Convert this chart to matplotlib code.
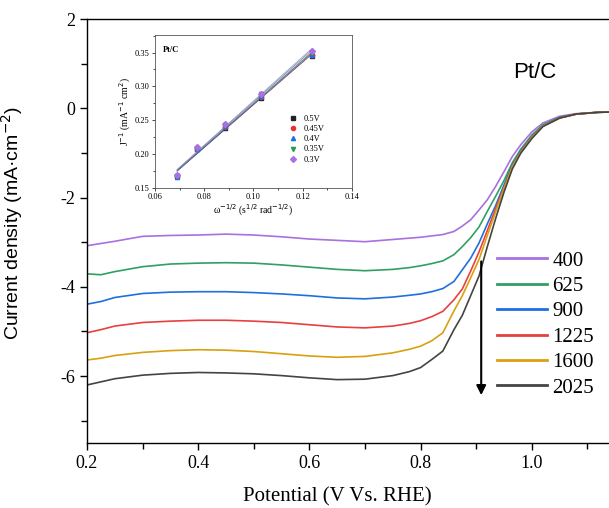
import matplotlib.pyplot as plt
import numpy as np
from matplotlib.ticker import MultipleLocator

plt.rcParams['axes.unicode_minus'] = False

# LSV curves (potential in V vs RHE, current density in mA cm-2)
potential = [0.20, 0.225, 0.25, 0.30, 0.35, 0.40, 0.45, 0.50, 0.55, 0.60, 0.65,
             0.70, 0.75, 0.78, 0.80, 0.82, 0.84, 0.86, 0.875, 0.89, 0.905, 0.92,
             0.935, 0.95, 0.965, 0.98, 1.00, 1.02, 1.05, 1.08, 1.12, 1.16, 1.20]
j_400 = [-3.08, -3.03, -2.98, -2.87, -2.85, -2.84, -2.82, -2.84, -2.88, -2.93, -2.96,
         -2.99, -2.94, -2.91, -2.89, -2.86, -2.83, -2.76, -2.64, -2.50, -2.28, -2.05,
         -1.75, -1.42, -1.08, -0.82, -0.53, -0.33, -0.18, -0.12, -0.09, -0.08, -0.07]
j_625 = [-3.71, -3.73, -3.66, -3.55, -3.49, -3.47, -3.46, -3.47, -3.51, -3.56, -3.61,
         -3.64, -3.61, -3.57, -3.53, -3.48, -3.42, -3.28, -3.10, -2.90, -2.66, -2.31,
         -1.97, -1.62, -1.22, -0.92, -0.60, -0.37, -0.20, -0.13, -0.09, -0.08, -0.07]
j_900 = [-4.39, -4.33, -4.24, -4.15, -4.12, -4.11, -4.11, -4.13, -4.16, -4.20, -4.25,
         -4.27, -4.23, -4.19, -4.16, -4.11, -4.04, -3.88, -3.62, -3.36, -3.02, -2.59,
         -2.18, -1.72, -1.27, -0.96, -0.63, -0.39, -0.21, -0.13, -0.09, -0.08, -0.07]
j_1225 = [-5.03, -4.96, -4.88, -4.80, -4.77, -4.75, -4.75, -4.77, -4.80, -4.85, -4.90,
          -4.92, -4.88, -4.82, -4.76, -4.67, -4.55, -4.29, -4.05, -3.65, -3.22, -2.74,
          -2.25, -1.78, -1.30, -0.98, -0.65, -0.40, -0.22, -0.13, -0.09, -0.08, -0.07]
j_1600 = [-5.64, -5.60, -5.54, -5.47, -5.43, -5.41, -5.42, -5.45, -5.50, -5.55, -5.58,
          -5.56, -5.48, -5.40, -5.33, -5.21, -5.03, -4.54, -4.20, -3.80, -3.39, -2.85,
          -2.32, -1.80, -1.31, -0.99, -0.66, -0.40, -0.22, -0.13, -0.09, -0.08, -0.07]
j_2025 = [-6.20, -6.13, -6.06, -5.98, -5.94, -5.92, -5.93, -5.95, -5.99, -6.04, -6.08,
          -6.07, -5.99, -5.90, -5.81, -5.63, -5.44, -4.96, -4.64, -4.20, -3.76, -3.10,
          -2.47, -1.88, -1.36, -1.01, -0.68, -0.41, -0.22, -0.13, -0.09, -0.08, -0.07]

rpm_labels = ['400', '625', '900', '1225', '1600', '2025']
curve_colors = ['#a970e0', '#2fa062', '#1f6fe0', '#e8403f', '#d9a010', '#444444']

# Koutecky-Levich inset data
kl_x = [0.0690, 0.0772, 0.0884, 0.1031, 0.1237]
kl_05 = [0.167, 0.207, 0.239, 0.283, 0.345]
kl_045 = [0.168, 0.207, 0.240, 0.284, 0.347]
kl_04 = [0.166, 0.208, 0.241, 0.286, 0.347]
kl_035 = [0.168, 0.209, 0.243, 0.288, 0.350]
kl_03 = [0.169, 0.210, 0.244, 0.289, 0.353]
kl_labels = ['0.5V', '0.45V', '0.4V', '0.35V', '0.3V']
kl_colors = ['#222222', '#e83030', '#2070e0', '#20a050', '#a870e0']
kl_markers = ['s', 'o', '^', 'v', 'D']

serif = 'Liberation Serif'
sans = 'Liberation Sans'

fig = plt.figure(figsize=(6.09, 5.08), dpi=100)
ax = fig.add_axes([87 / 609, 65 / 508, 556 / 609, 424 / 508])

curves = [j_400, j_625, j_900, j_1225, j_1600, j_2025]
for j, lab, c in zip(curves, rpm_labels, curve_colors):
    ax.plot(potential, j, color=c, lw=1.2, label=lab)

ax.set_xlim(0.2, 1.2)
ax.set_ylim(-7.5, 2)
ax.xaxis.set_minor_locator(MultipleLocator(0.1))
ax.yaxis.set_major_locator(MultipleLocator(2))
ax.yaxis.set_minor_locator(MultipleLocator(1))
ax.set_xticks([0.2, 0.4, 0.6, 0.8, 1.0])
ax.set_xticklabels(['0.2', '0.4', '0.6', '0.8', '1.0'])
ax.tick_params(which='both', direction='out', width=1.0, labelsize=13)
ax.tick_params(which='major', length=5)
ax.tick_params(which='minor', length=4)
for lbl in ax.get_xticklabels() + ax.get_yticklabels():
    lbl.set_fontfamily(serif)
for sp in ax.spines.values():
    sp.set_linewidth(1.0)

ax.set_xlabel('Potential (V Vs. RHE)', fontfamily=serif, fontsize=15)
ax.xaxis.set_label_coords((337 - 87) / 556, -(487 - 443) / 424)
ax.set_ylabel('Current density (mA·cm$^{-2}$)', fontfamily=sans, fontsize=14)
ax.yaxis.set_label_coords(-(87 - 25) / 556, 0.52)

fig.text(535 / 609, 1 - 73 / 508, 'Pt/C', fontfamily=sans, fontsize=16,
         ha='center', va='center')

ax.annotate('', xy=(0.909, -6.49), xytext=(0.909, -3.37),
            arrowprops=dict(arrowstyle='-|>', color='black', lw=1.5, mutation_scale=14))

leg = ax.legend(loc='upper left', bbox_to_anchor=(497 / 609, 1 - 251 / 508),
                bbox_transform=fig.transFigure, frameon=False, borderpad=0,
                borderaxespad=0, handlelength=2.4, handletextpad=0.25,
                labelspacing=0.28, prop={'family': serif, 'size': 15})
for line in leg.get_lines():
    line.set_linewidth(2.0)

# inset
ins = fig.add_axes([155 / 609, 1 - 187.7 / 508, 196.7 / 609, 152.7 / 508])
kl_sets = [kl_05, kl_045, kl_04, kl_035, kl_03]
for ys, lab, c, m in zip(kl_sets, kl_labels, kl_colors, kl_markers):
    ins.plot(kl_x, ys, linestyle='none', marker=m, color=c, ms=3, label=lab)
    k, b = np.polyfit(kl_x, ys, 1)
    xs = np.array([kl_x[0], kl_x[-1]])
    ins.plot(xs, k * xs + b, color=c, lw=0.6, alpha=0.8)

ins.set_xlim(0.06, 0.14)
ins.set_ylim(0.15, 0.376)
ins.xaxis.set_major_locator(MultipleLocator(0.02))
ins.xaxis.set_minor_locator(MultipleLocator(0.01))
ins.yaxis.set_major_locator(MultipleLocator(0.05))
ins.yaxis.set_minor_locator(MultipleLocator(0.025))
ins.tick_params(which='both', direction='out', labelsize=6, width=0.5, pad=1.5)
ins.tick_params(which='major', length=2.5)
ins.tick_params(which='minor', length=1.5)
for lbl in ins.get_xticklabels() + ins.get_yticklabels():
    lbl.set_fontfamily(serif)
for sp in ins.spines.values():
    sp.set_linewidth(0.6)
    sp.set_color('#555555')
ins.set_xlabel('ω$^{-1/2}$ (s$^{1/2}$ rad$^{-1/2}$)', fontfamily=serif, fontsize=7, labelpad=1)
ins.set_ylabel('J$^{-1}$ (mA$^{-1}$ cm$^{2}$)', fontfamily=serif, fontsize=7, labelpad=1)
ins.text(0.04, 0.93, 'Pt/C', transform=ins.transAxes, fontfamily=serif, fontsize=6,
         fontweight='bold', va='top')
ins.legend(loc='upper left', bbox_to_anchor=(0.68, 0.475), frameon=False,
           prop={'family': serif, 'size': 6}, handlelength=1.0, handletextpad=0.8,
           labelspacing=0.25, borderpad=0, borderaxespad=0)

fig.savefig('out.png', dpi=100)
